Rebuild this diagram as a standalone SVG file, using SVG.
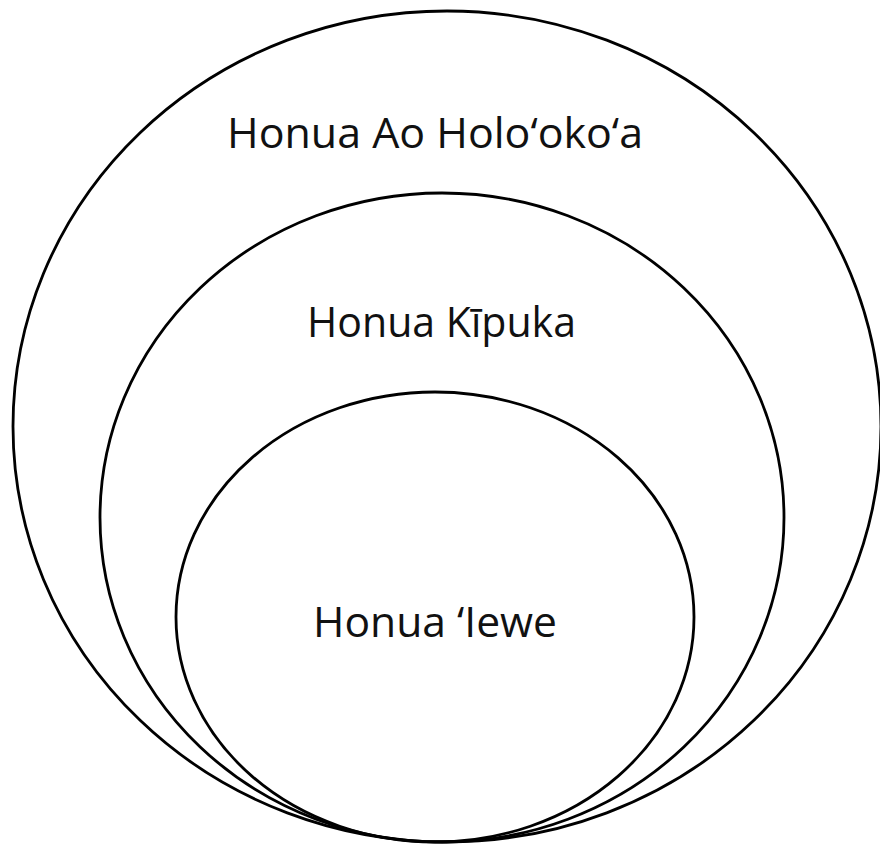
<svg xmlns="http://www.w3.org/2000/svg" width="880" height="846" viewBox="0 0 880 846">
<style>
.ring{fill:none;stroke:#000;stroke-width:2.8}
.lbl{font-family:"Open Sans","Noto Sans","Liberation Sans",sans-serif;font-size:42px;fill:#111}
</style>
<rect width="880" height="846" fill="#fff"/>
<g id="outer">
<ellipse class="ring" cx="447" cy="426.5" rx="434" ry="415.5"/>
<text class="lbl" x="227" y="148" textLength="416" lengthAdjust="spacingAndGlyphs">Honua Ao Holo‘oko‘a</text>
</g>
<g id="middle">
<ellipse class="ring" cx="442" cy="517.5" rx="342" ry="324.5"/>
<text class="lbl" x="307" y="337" textLength="269" lengthAdjust="spacingAndGlyphs">Honua Kīpuka</text>
</g>
<g id="inner">
<ellipse class="ring" cx="435" cy="617" rx="259" ry="225"/>
<text class="lbl" x="313" y="637" textLength="244" lengthAdjust="spacingAndGlyphs">Honua ‘Iewe</text>
</g>
<g id="connectors"/>
</svg>
